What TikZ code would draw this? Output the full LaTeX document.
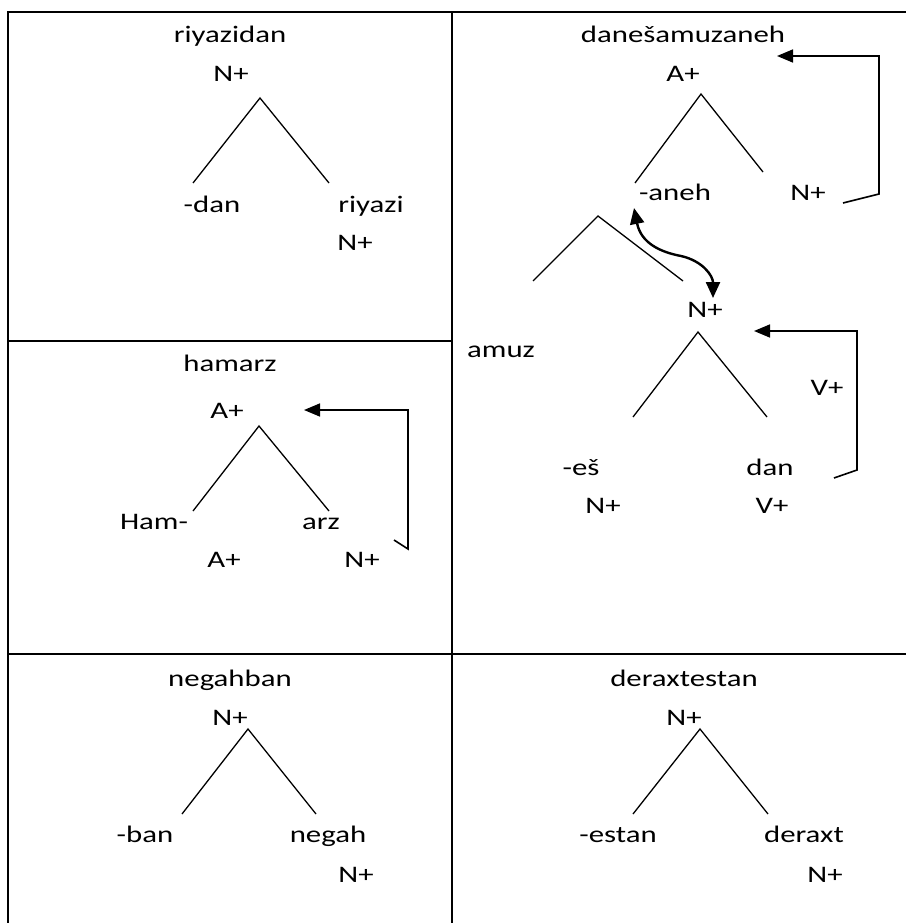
\documentclass[tikz,border=0pt]{standalone}
\usepackage{fontspec}
\setmainfont{Carlito}[FakeStretch=1.3]
\usetikzlibrary{arrows.meta}
\tikzset{
  lbl/.style={anchor=base, inner sep=0pt, font=\fontsize{23.7}{28}\selectfont},
  grid/.style={line width=2pt},
  branch/.style={line width=1.3pt},
  link/.style={line width=1.6pt, -{Triangle[length=16pt,width=13pt]}},
  swap/.style={line width=2.4pt, {Triangle[length=16pt,width=14pt]}-{Triangle[length=16pt,width=14pt]}},
}
\begin{document}
\begin{tikzpicture}[x=1pt,y=-1pt]
\useasboundingbox (0,0) rectangle (906,923);
% table grid
\coordinate (tl) at (8,12);
\coordinate (tr) at (906,12);
\coordinate (bl) at (8,923);
\coordinate (mt) at (452,12);
\coordinate (mb) at (452,923);
\coordinate (h1l) at (8,341);
\coordinate (h1r) at (452,341);
\coordinate (h2l) at (8,654);
\coordinate (h2r) at (906,654);
\draw[grid] (bl) -- (tl) -- (tr);
\draw[grid] (mt) -- (mb);
\draw[grid] (h1l) -- (h1r);
\draw[grid] (h2l) -- (h2r);

% panel 1: riyazidan
\node[lbl] (p1w) at (230,43) {riyazidan};
\node[lbl] (p1c) at (231,82) {N+};
\coordinate (p1a) at (260,98);
\coordinate (p1l) at (193,183);
\coordinate (p1r) at (329,183);
\draw[branch] (p1l) -- (p1a) -- (p1r);
\node[lbl] (p1d) at (212,212) {-dan};
\node[lbl] (p1s) at (371,212) {riyazi};
\node[lbl] (p1n) at (355,250) {N+};

% panel 2: hamarz
\node[lbl] (p2w) at (230,371) {hamarz};
\node[lbl] (p2c) at (227,418) {A+};
\coordinate (p2a) at (259,426);
\coordinate (p2l) at (193,511);
\coordinate (p2r) at (329,511);
\draw[branch] (p2l) -- (p2a) -- (p2r);
\node[lbl] (p2h) at (154,529) {Ham-};
\node[lbl] (p2z) at (321,529) {arz};
\node[lbl] (p2ha) at (224,567) {A+};
\node[lbl] (p2zn) at (362,567) {N+};
\coordinate (p2s) at (394,540);
\coordinate (p2k1) at (408,549);
\coordinate (p2k2) at (408,410);
\coordinate (p2t) at (304,410);
\draw[link] (p2s) -- (p2k1) -- (p2k2) -- (p2t);

% panel 4: danesamuzaneh
\node[lbl] (p4w) at (683,43) {danešamuzaneh};
\node[lbl] (p4c) at (683,82) {A+};
\coordinate (p4a) at (701,94);
\coordinate (p4l) at (635,183);
\coordinate (p4r) at (763,172);
\draw[branch] (p4l) -- (p4a) -- (p4r);
\node[lbl] (p4an) at (675,200) {-aneh};
\node[lbl] (p4n) at (808,200) {N+};
\coordinate (p4s) at (843,203);
\coordinate (p4k1) at (879,194);
\coordinate (p4k2) at (879,56);
\coordinate (p4t) at (777,56);
\draw[link] (p4s) -- (p4k1) -- (p4k2) -- (p4t);
% amuz branch
\coordinate (p4ba) at (598,216);
\coordinate (p4bl) at (533,281);
\coordinate (p4br) at (683,281);
\draw[branch] (p4bl) -- (p4ba) -- (p4br);
% swap arrow
\coordinate (p4u) at (634,208);
\coordinate (p4m) at (681,256);
\coordinate (p4d) at (713,298);
\draw[swap] (p4u) .. controls (641,243) and (660,252) .. (p4m)
            .. controls (703,261) and (713,276) .. (p4d);
\node[lbl] (p4nn) at (705,317) {N+};
\node[lbl] (p4am) at (501,357) {amuz};
\coordinate (p4s2) at (834,478);
\coordinate (p4q1) at (857,470);
\coordinate (p4q2) at (857,331);
\coordinate (p4t2) at (754,331);
\draw[link] (p4s2) -- (p4q1) -- (p4q2) -- (p4t2);
\node[lbl] (p4v) at (827,395) {V+};
\coordinate (p4ca) at (698,332);
\coordinate (p4cl) at (633,417);
\coordinate (p4cr) at (767,417);
\draw[branch] (p4cl) -- (p4ca) -- (p4cr);
\node[lbl] (p4es) at (581,475) {-eš};
\node[lbl] (p4dn) at (770,475) {dan};
\node[lbl] (p4esn) at (603,513) {N+};
\node[lbl] (p4dnv) at (772,513) {V+};

% panel 3: negahban
\node[lbl] (p3w) at (230,686) {negahban};
\node[lbl] (p3c) at (230,725) {N+};
\coordinate (p3a) at (248,729);
\coordinate (p3l) at (182,814);
\coordinate (p3r) at (316,814);
\draw[branch] (p3l) -- (p3a) -- (p3r);
\node[lbl] (p3b) at (145,842) {-ban};
\node[lbl] (p3g) at (328,842) {negah};
\node[lbl] (p3n) at (356,882) {N+};

% panel 5: deraxtestan
\node[lbl] (p5w) at (684,686) {deraxtestan};
\node[lbl] (p5c) at (684,725) {N+};
\coordinate (p5a) at (700,729);
\coordinate (p5l) at (633,814);
\coordinate (p5r) at (768,814);
\draw[branch] (p5l) -- (p5a) -- (p5r);
\node[lbl] (p5e) at (618,842) {-estan};
\node[lbl] (p5d) at (804,842) {deraxt};
\node[lbl] (p5n) at (825,882) {N+};
\end{tikzpicture}
\end{document}
